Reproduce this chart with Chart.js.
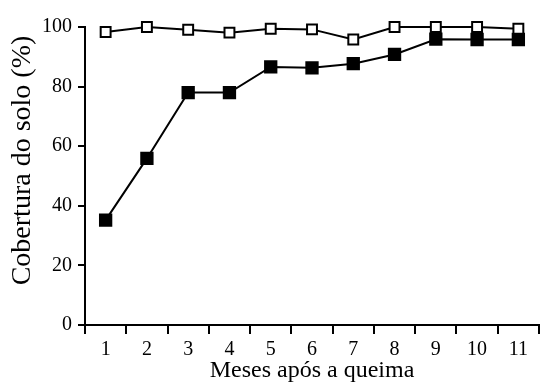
<!DOCTYPE html>
<html lang="pt">
<head>
  <meta charset="UTF-8" />
  <title>Cobertura do solo</title>
  <script src="https://cdn.jsdelivr.net/npm/chart.js"></script>
  <style>
    body { margin: 0; background: #fff; }
  </style>
</head>
<body>
  <canvas id="coverChart" width="541" height="385"></canvas>

  <script>
    // meses apos a queima
    const months = ['1', '2', '3', '4', '5', '6', '7', '8', '9', '10', '11'];
    // quadrados abertos
    const coverOpen = [98.3, 100, 99.1, 98.1, 99.4, 99.2, 95.8, 100, 100, 100, 99.4];
    // quadrados cheios
    const coverFilled = [35.2, 55.9, 78.0, 78.0, 86.6, 86.3, 87.7, 90.8, 95.9, 95.8, 95.8];
    const yTicks = [0, 20, 40, 60, 80, 100];

    const serif = 'Liberation Serif, Times New Roman, serif';

    // y title drawn by hand so it can sit a bit above the middle like the original
    const yTitle = {
      id: 'yTitle',
      afterDraw(chart) {
        const ctx = chart.ctx;
        ctx.save();
        ctx.translate(22.5, 160.5);
        ctx.rotate(-Math.PI / 2);
        ctx.font = '28px ' + serif;
        ctx.fillStyle = '#000';
        ctx.textAlign = 'center';
        ctx.textBaseline = 'middle';
        ctx.fillText('Cobertura do solo (%)', 0, 0);
        ctx.restore();
      }
    };

    const ctx = document.getElementById('coverChart').getContext('2d');
    new Chart(ctx, {
      type: 'line',
      data: {
        labels: months,
        datasets: [
          {
            label: 'aberto',
            data: coverOpen,
            borderColor: '#000',
            borderWidth: 2,
            pointStyle: 'rect',
            pointRadius: 7,
            pointBorderWidth: 2,
            pointBackgroundColor: '#fff',
            pointBorderColor: '#000',
            tension: 0,
            clip: false
          },
          {
            label: 'cheio',
            data: coverFilled,
            borderColor: '#000',
            borderWidth: 2,
            pointStyle: 'rect',
            pointRadius: 8,
            pointBorderWidth: 2,
            pointBackgroundColor: '#000',
            pointBorderColor: '#000',
            tension: 0,
            clip: false
          }
        ]
      },
      options: {
        responsive: false,
        animation: false,
        layout: {
          autoPadding: false,
          padding: { top: 27, right: 2, left: 0, bottom: 0 }
        },
        plugins: {
          legend: { display: false },
          tooltip: { enabled: false }
        },
        scales: {
          x: {
            type: 'category',
            offset: true,
            grid: {
              offset: true,
              drawOnChartArea: false,
              drawTicks: true,
              tickLength: 9,
              color: '#000',
              lineWidth: 2
            },
            border: { display: true, color: '#000', width: 2 },
            ticks: {
              color: '#000',
              padding: 4,
              maxRotation: 0,
              font: { family: serif, size: 20 }
            },
            title: {
              display: true,
              text: 'Meses após a queima',
              color: '#000',
              padding: { top: 0, bottom: 0 },
              font: { family: serif, size: 24 }
            },
            afterFit(scale) { scale.height = 60; }
          },
          y: {
            min: 0,
            max: 100,
            afterBuildTicks(scale) {
              scale.ticks = yTicks.map(v => ({ value: v }));
            },
            grid: {
              drawOnChartArea: false,
              drawTicks: true,
              tickLength: 7,
              color: '#000',
              lineWidth: 2
            },
            border: { display: true, color: '#000', width: 2 },
            ticks: {
              color: '#000',
              padding: 6,
              font: { family: serif, size: 20 }
            },
            afterFit(scale) { scale.width = 85; }
          }
        }
      },
      plugins: [yTitle]
    });
  </script>
</body>
</html>
